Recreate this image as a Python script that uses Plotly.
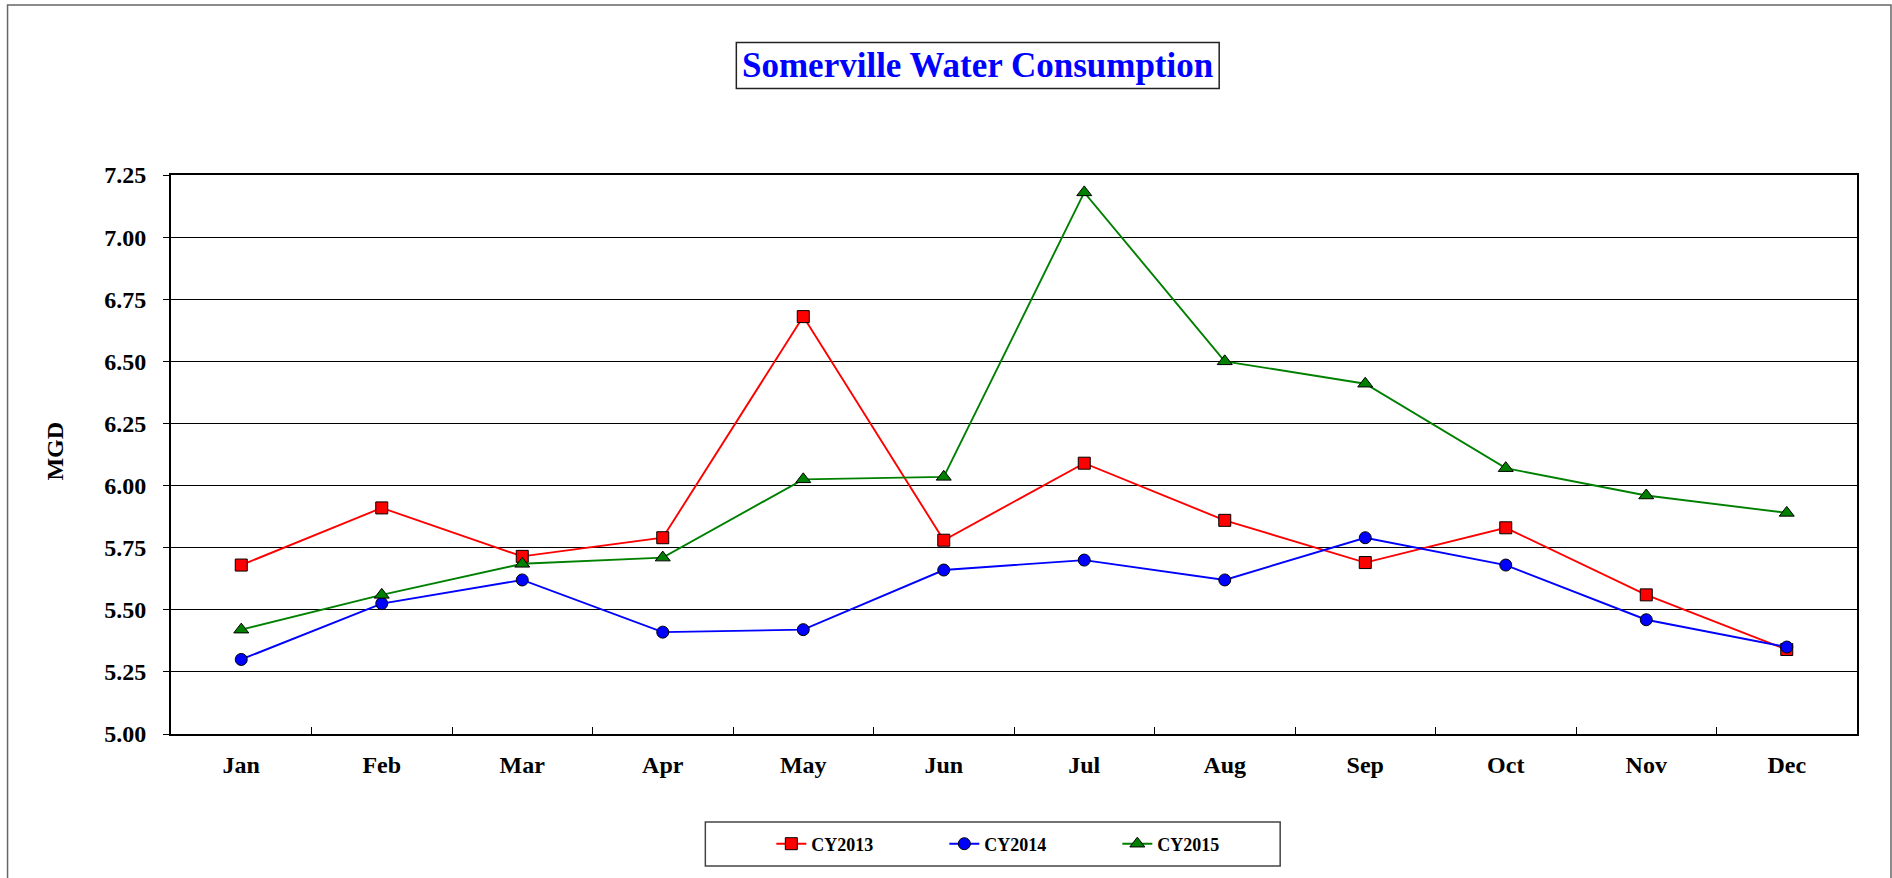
import plotly.graph_objects as go

# Monthly consumption, million gallons per day
months = ["Jan", "Feb", "Mar", "Apr", "May", "Jun",
          "Jul", "Aug", "Sep", "Oct", "Nov", "Dec"]
cy2013 = [5.68, 5.91, 5.715, 5.79, 6.68, 5.78, 6.09, 5.86, 5.69, 5.83, 5.56, 5.34]
cy2014 = [5.30, 5.525, 5.62, 5.41, 5.42, 5.66, 5.70, 5.62, 5.79, 5.68, 5.46, 5.35]
cy2015 = [5.42, 5.56, 5.685, 5.71, 6.025, 6.035, 7.18, 6.50, 6.41, 6.07, 5.96, 5.89]
y_ticks = [5.00, 5.25, 5.50, 5.75, 6.00, 6.25, 6.50, 6.75, 7.00, 7.25]

W, H = 1892, 878
L, R, T, B = 170.5, 35, 175, 144
PW, PH = W - L - R, H - T - B

FONT = "Liberation Serif, Times New Roman, serif"


def px_x(px):
    return (px - L) / PW


def px_y(py):
    return (H - B - py) / PH


series = [
    ("CY2013", cy2013, "#FF0000", "square", 12),
    ("CY2014", cy2014, "#0000FF", "circle", 12),
    ("CY2015", cy2015, "#008000", "triangle-up", 13),
]

fig = go.Figure()
for name, vals, color, symbol, size in series:
    fig.add_trace(go.Scatter(
        x=months, y=vals, name=name, mode="lines+markers",
        line=dict(color=color, width=1.9),
        marker=dict(symbol=symbol, size=size, color=color,
                    line=dict(color="#000000", width=1)),
    ))

fig.update_layout(
    width=W, height=H,
    margin=dict(l=L, r=R, t=T, b=B, pad=0),
    paper_bgcolor="white", plot_bgcolor="white",
    font=dict(family=FONT, color="black", size=24, weight="bold"),
    showlegend=True,
    legend=dict(
        orientation="h", x=px_x(771), xanchor="left",
        y=px_y(844), yanchor="middle",
        bgcolor="rgba(0,0,0,0)", borderwidth=0,
        font=dict(family=FONT, size=18, weight="bold"),
        entrywidth=128, entrywidthmode="pixels", itemwidth=30,
    ),
    xaxis=dict(
        type="category", range=[-0.5, 11.5],
        showgrid=False, showline=True, linecolor="black", linewidth=2,
        mirror=True, ticks="inside", tickson="boundaries", ticklen=7,
        tickcolor="black", tickwidth=1,
        tickfont=dict(family=FONT, size=24, weight="bold"),
        ticklabelstandoff=8,
    ),
    yaxis=dict(
        range=[5.0, 7.25], tickvals=y_ticks, tickformat=".2f",
        showgrid=True, gridcolor="black", gridwidth=1,
        showline=True, linecolor="black", linewidth=2, mirror=True,
        ticks="outside", ticklen=6, tickcolor="black", tickwidth=1,
        tickfont=dict(family=FONT, size=24, weight="bold"),
        ticklabelstandoff=12, zeroline=False,
    ),
    shapes=[
        # outer chart frame
        dict(type="rect", xref="paper", yref="paper",
             x0=px_x(7), x1=px_x(1891), y0=px_y(5), y1=px_y(884),
             line=dict(color="#666666", width=1.5), layer="below"),
        # title frame
        dict(type="rect", xref="paper", yref="paper",
             x0=px_x(736), x1=px_x(1219), y0=px_y(42.5), y1=px_y(88.5),
             line=dict(color="#222222", width=1.5)),
        # legend frame
        dict(type="rect", xref="paper", yref="paper",
             x0=px_x(705), x1=px_x(1280), y0=px_y(822), y1=px_y(866),
             line=dict(color="#444444", width=1.5)),
    ],
    annotations=[
        dict(text="Somerville Water Consumption", xref="paper", yref="paper",
             x=px_x(977.5), y=px_y(65), xanchor="center", yanchor="middle",
             showarrow=False,
             font=dict(family=FONT, size=35, color="#0000FF", weight="bold")),
        dict(text="MGD", xref="paper", yref="paper",
             x=px_x(54), y=px_y(451), xanchor="center", yanchor="middle",
             textangle=-90, showarrow=False,
             font=dict(family=FONT, size=24, color="black", weight="bold")),
    ],
)

fig.write_html("out.html")
